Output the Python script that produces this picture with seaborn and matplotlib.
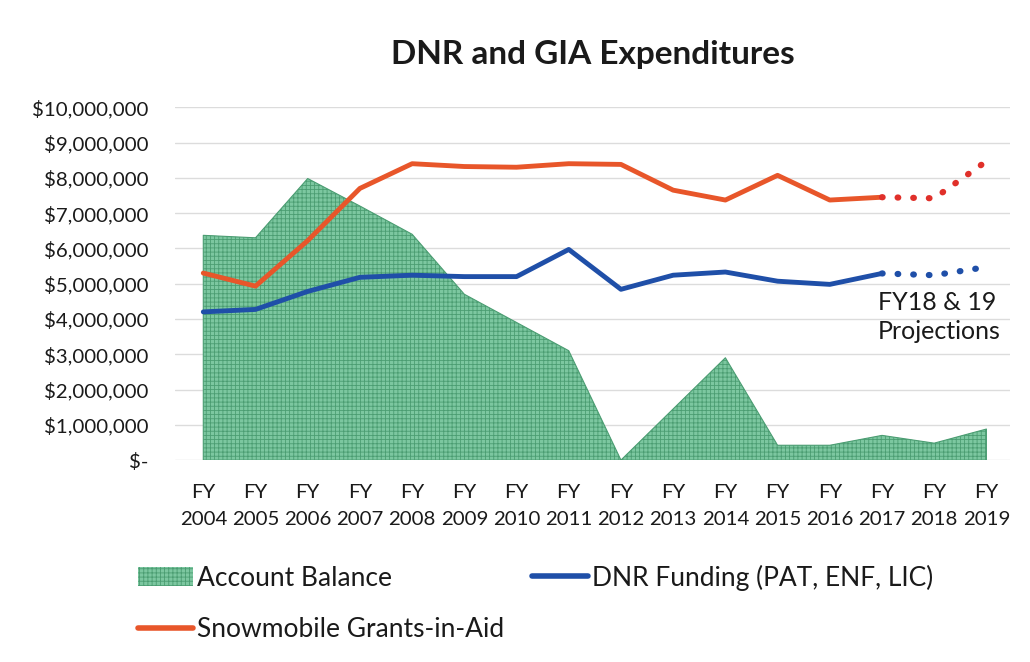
import matplotlib
matplotlib.use("Agg")
import matplotlib.pyplot as plt
import matplotlib.ticker as mticker
from matplotlib.patches import Patch
from matplotlib.lines import Line2D
import seaborn as sns

years = ["2004", "2005", "2006", "2007", "2008", "2009", "2010", "2011",
         "2012", "2013", "2014", "2015", "2016", "2017", "2018", "2019"]
account_balance = [6.37, 6.30, 7.98, 7.20, 6.40, 4.70, 3.90, 3.10,
                   0.0, 1.45, 2.90, 0.42, 0.42, 0.70, 0.48, 0.88]
dnr_funding = [4.20, 4.27, 4.78, 5.18, 5.24, 5.20, 5.20, 5.97,
               4.84, 5.24, 5.33, 5.07, 4.98, 5.29, 5.24, 5.47]
snowmobile_gia = [5.30, 4.93, 6.22, 7.70, 8.40, 8.32, 8.30, 8.40,
                  8.38, 7.65, 7.37, 8.07, 7.37, 7.45, 7.42, 8.47]
yticks = list(range(0, 11))
last_actual = 13  # FY2017 index; after this values are projections

GREEN = "#7cc7a0"
HATCH = "#4b9d72"
BLUE = "#1f4fa8"
ORANGE = "#e8562a"
RED = "#e0302a"
TEXT = "#1a1a1a"

sns.set_style("white")
plt.rcParams["font.family"] = ["Lato", "DejaVu Sans"]
plt.rcParams["hatch.linewidth"] = 0.6

fig = plt.figure(figsize=(10.3, 6.62), dpi=100)
ax = fig.add_axes([0.170, 0.305, 0.811, 0.533])

x = list(range(len(years)))
scale = 1_000_000
bal = [v * scale for v in account_balance]
dnr = [v * scale for v in dnr_funding]
gia = [v * scale for v in snowmobile_gia]

ax.fill_between(x, 0, bal, facecolor=GREEN, edgecolor=HATCH, hatch="++++",
                linewidth=0.8, zorder=2)

solid = slice(0, last_actual + 1)
proj = slice(last_actual, len(years))
sns.lineplot(x=x[solid], y=dnr[solid], ax=ax, color=BLUE, lw=3.5,
             solid_capstyle="round", zorder=3)
sns.lineplot(x=x[solid], y=gia[solid], ax=ax, color=ORANGE, lw=3.5,
             solid_capstyle="round", zorder=3)
ax.plot(x[proj], dnr[proj], color=BLUE, lw=4.5, linestyle=(0, (0.1, 2.4)),
        dash_capstyle="round", zorder=3)
ax.plot(x[proj], gia[proj], color=RED, lw=4.5, linestyle=(0, (0.1, 2.4)),
        dash_capstyle="round", zorder=3)

ax.set_xlim(-0.54, 15.46)
ax.set_ylim(0, 10 * scale)
ax.set_yticks([t * scale for t in yticks])


def money(v, pos):
    if v == 0:
        return "$-"
    return "${:,.0f}".format(v)


ax.yaxis.set_major_formatter(mticker.FuncFormatter(money))
ax.set_xticks(x)
ax.set_xticklabels(["FY\n" + y for y in years], linespacing=1.75)
ax.tick_params(axis="x", length=0, pad=17, labelsize=14.7, colors=TEXT)
ax.tick_params(axis="y", length=0, pad=19, labelsize=14.7, colors=TEXT)
ax.grid(axis="y", color="#dcdcdc", lw=1, zorder=0)
ax.set_axisbelow(True)
for s in ax.spines.values():
    s.set_visible(False)

ax.set_title("DNR and GIA Expenditures", fontsize=24, fontweight="bold",
             color=TEXT, pad=31)

ax.text(12.92, 4.78 * scale, "FY18 & 19\nProjections", fontsize=18,
        color=TEXT, va="top", ha="left", linespacing=1.3, zorder=4)

handles = [
    Patch(facecolor=GREEN, edgecolor=HATCH, hatch="++++", lw=0),
    Line2D([0], [0], color=ORANGE, lw=4, solid_capstyle="round"),
    Line2D([0], [0], color=BLUE, lw=4, solid_capstyle="round"),
]
labels = ["Account Balance", "Snowmobile Grants-in-Aid", "DNR Funding (PAT, ENF, LIC)"]
fig.legend(handles, labels, loc="upper left", bbox_to_anchor=(0.111, 0.183),
           ncol=2, frameon=False, fontsize=19, handlelength=2.1,
           handletextpad=0.15, columnspacing=1.05, labelspacing=1.0,
           labelcolor=TEXT)

fig.savefig("out.png", dpi=100, facecolor="white")
